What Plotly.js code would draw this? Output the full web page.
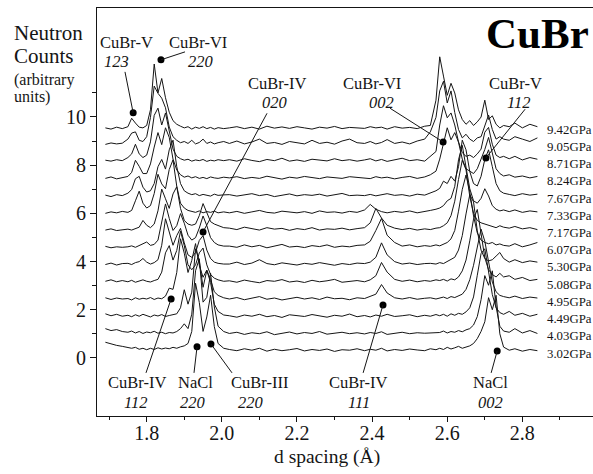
<!DOCTYPE html>
<html><head><meta charset="utf-8">
<script src="https://cdn.plot.ly/plotly-3.0.1.min.js"></script>
<style>html,body{margin:0;padding:0;background:#fff}#chart{width:593px;height:474px}</style>
</head><body><div id="chart"></div>
<script>
// d spacing (Å) sample points shared by all patterns
const dSpacing = [1.690,1.705,1.720,1.735,
1.750,1.760,1.770,1.780,1.790,1.800,1.810,1.820,1.830,1.840,1.850,1.860,1.870,1.880,1.890,1.900,1.910,1.920,1.930,1.940,1.950,1.960,1.970,1.980,1.990,2.005,
2.020,2.040,2.060,2.080,2.100,2.120,2.140,2.160,2.180,2.200,2.220,2.240,2.260,2.280,2.300,2.320,2.340,2.360,
2.380,2.395,2.410,2.425,2.440,2.460,2.480,2.500,2.520,2.540,
2.555,2.570,
2.580,2.590,2.600,2.610,2.620,2.630,2.640,2.650,2.660,2.670,2.680,2.690,2.700,2.710,2.720,2.730,2.740,2.750,
2.765,2.780,2.800,2.820,2.840];

const pressures = ["3.02GPa","4.03GPa","4.49GPa","4.95GPa","5.08GPa","5.30GPa","6.07GPa","7.17GPa","7.33GPa","7.67GPa","8.24GPa","8.71GPa","9.05GPa","9.42GPa"];

// neutron counts (arbitrary units) above each pattern's own baseline
const counts302 = [0.45,0.38,0.32,0.28,
0.25,0.2,0.24,0.16,0.2,0.14,0.2,0.15,0.22,0.17,0.21,0.18,0.24,0.2,0.26,0.3,0.4,0.9,2.9,2.1,0.9,1.5,2.4,1.1,0.4,0.2,
0.15,0.1,0.18,0.12,0.2,0.08,0.16,0.1,0.14,0.19,0.09,0.15,0.11,0.17,0.07,0.14,0.12,0.18,
0.1,0.16,0.12,0.2,0.09,0.15,0.11,0.17,0.13,0.1,
0.18,0.14,
0.2,0.15,0.24,0.17,0.22,0.28,0.2,0.25,0.3,0.4,0.6,0.9,1.3,2.3,1.8,2.4,0.8,0.25,
0.12,0.18,0.08,0.15,0.1];
const counts403 = [0.3,0.22,0.26,0.18,
0.15,0.2,0.12,0.18,0.1,0.16,0.13,0.19,0.11,0.15,0.09,0.14,0.12,0.18,0.3,0.5,0.3,0.9,2.7,3.2,1.4,1.6,2.6,1.2,0.4,0.18,
0.1,0.15,0.06,0.13,0.09,0.17,0.05,0.12,0.16,0.08,0.14,0.1,0.18,0.07,0.12,0.15,0.09,0.13,
0.08,0.14,0.1,0.17,0.06,0.12,0.15,0.09,0.13,0.11,
0.12,0.16,
0.14,0.2,0.12,0.18,0.15,0.22,0.17,0.25,0.3,0.45,0.8,1.5,2.5,2.1,2.7,1.2,0.4,0.2,
0.15,0.3,0.12,0.22,0.1];
const counts449 = [0.2,0.12,0.18,0.1,
0.14,0.08,0.16,0.1,0.18,0.12,0.07,0.15,0.11,0.17,0.09,0.13,0.16,0.2,0.45,1.2,0.6,1.1,2.9,2.4,1.3,2.0,1.5,0.6,0.3,0.15,
0.12,0.06,0.15,0.1,0.18,0.08,0.13,0.05,0.16,0.11,0.09,0.17,0.12,0.06,0.14,0.1,0.19,0.08,
0.13,0.07,0.15,0.1,0.18,0.09,0.12,0.16,0.08,0.14,
0.1,0.17,
0.12,0.18,0.1,0.2,0.14,0.22,0.18,0.28,0.45,0.9,1.8,2.7,2.9,2.0,1.0,0.45,0.25,0.18,
0.3,0.14,0.22,0.1,0.18];
const counts495 = [0.15,0.08,0.14,0.1,
0.12,0.06,0.15,0.09,0.13,0.1,0.16,0.08,0.14,0.11,0.22,0.55,0.5,1.2,2.6,2.0,1.2,1.7,2.4,1.5,1.0,1.3,0.9,0.4,0.25,0.15,
0.1,0.16,0.07,0.13,0.2,0.09,0.14,0.06,0.12,0.17,0.1,0.15,0.08,0.18,0.11,0.13,0.07,0.15,
0.12,0.2,0.3,0.7,0.35,0.15,0.1,0.16,0.09,0.13,
0.15,0.1,
0.14,0.18,0.12,0.2,0.16,0.22,0.3,0.5,0.9,1.5,2.3,3.0,2.5,1.6,0.8,0.4,0.25,0.2,
0.15,0.22,0.12,0.18,0.14];
const counts508 = [0.12,0.18,0.1,0.15,
0.1,0.16,0.08,0.13,0.18,0.12,0.09,0.15,0.2,0.5,1.3,1.6,1.0,1.4,2.2,1.6,0.8,0.6,0.8,1.3,1.5,0.8,0.4,0.25,0.18,0.12,
0.14,0.08,0.17,0.11,0.06,0.15,0.12,0.19,0.09,0.13,0.07,0.16,0.1,0.14,0.2,0.08,0.12,0.15,
0.1,0.18,0.35,0.9,0.5,0.2,0.12,0.17,0.1,0.15,
0.12,0.18,
0.15,0.2,0.13,0.22,0.18,0.3,0.55,1.0,1.8,2.7,3.1,2.0,1.1,0.6,0.4,0.3,0.45,0.3,
0.35,0.2,0.28,0.15,0.2];
const counts530 = [0.1,0.16,0.08,0.14,
0.15,0.1,0.18,0.22,0.35,0.2,0.12,0.18,0.3,0.9,2.0,1.5,0.9,1.3,1.6,1.0,0.5,0.4,0.6,1.1,1.3,0.7,0.35,0.2,0.15,0.12,
0.12,0.2,0.1,0.16,0.3,0.14,0.09,0.17,0.12,0.08,0.15,0.11,0.18,0.13,0.07,0.14,0.1,0.16,
0.14,0.2,0.4,1.0,0.5,0.22,0.12,0.16,0.1,0.14,
0.15,0.12,
0.18,0.14,0.22,0.3,0.4,0.7,1.3,2.2,3.0,2.7,1.5,0.7,0.35,0.25,0.3,0.45,0.6,0.35,
0.2,0.3,0.18,0.25,0.2];
const counts607 = [0.14,0.08,0.12,0.1,
0.12,0.16,0.1,0.18,0.25,0.32,0.18,0.22,0.4,1.1,1.9,1.3,0.8,1.0,1.5,1.1,0.6,0.4,0.5,0.9,1.4,1.0,0.5,0.3,0.2,0.15,
0.15,0.1,0.2,0.12,0.18,0.08,0.16,0.22,0.11,0.14,0.09,0.17,0.13,0.2,0.1,0.15,0.12,0.18,
0.2,0.35,0.8,1.3,0.6,0.3,0.15,0.2,0.12,0.17,
0.14,0.2,
0.16,0.22,0.3,0.45,0.8,1.6,2.5,3.1,2.4,1.4,0.7,0.4,0.3,0.25,0.3,0.2,0.24,0.18,
0.15,0.25,0.12,0.2,0.3];
const counts717 = [0.1,0.15,0.08,0.12,
0.14,0.1,0.16,0.22,0.5,0.3,0.2,0.35,0.9,1.8,1.4,1.0,1.6,1.9,1.0,0.5,0.35,0.3,0.35,0.7,1.2,0.8,0.45,0.35,0.28,0.2,
0.18,0.12,0.22,0.15,0.1,0.2,0.14,0.17,0.09,0.16,0.12,0.2,0.1,0.15,0.13,0.18,0.11,0.16,
0.2,0.4,1.0,0.6,0.3,0.18,0.12,0.17,0.1,0.15,
0.12,0.18,
0.2,0.28,0.4,0.7,1.3,2.2,3.0,2.6,1.5,0.8,0.5,0.4,0.35,0.3,0.25,0.2,0.28,0.22,
0.18,0.25,0.15,0.2,0.12];
const counts733 = [0.08,0.14,0.1,0.16,
0.12,0.2,0.6,1.0,0.5,0.3,0.4,0.9,1.7,1.3,1.1,1.9,2.3,1.2,0.5,0.3,0.2,0.16,0.12,0.18,0.1,0.15,0.12,0.17,0.1,0.14,
0.1,0.16,0.08,0.14,0.2,0.12,0.09,0.17,0.13,0.1,0.15,0.08,0.18,0.12,0.14,0.09,0.16,0.12,
0.22,0.45,0.25,0.15,0.1,0.16,0.12,0.18,0.1,0.14,
0.2,0.25,
0.3,0.4,0.6,0.7,1.2,2.3,2.9,2.0,1.1,0.6,0.5,0.7,1.1,0.8,0.4,0.25,0.18,0.22,
0.15,0.22,0.12,0.18,0.14];
const counts767 = [0.12,0.06,0.14,0.1,
0.2,0.35,0.8,0.9,0.45,0.25,0.3,0.6,1.3,1.6,1.2,2.0,2.4,1.3,0.6,0.3,0.2,0.14,0.18,0.1,0.15,0.12,0.08,0.16,0.11,0.13,
0.14,0.08,0.12,0.18,0.1,0.15,0.06,0.13,0.17,0.09,0.14,0.11,0.16,0.08,0.13,0.19,0.1,0.12,
0.1,0.15,0.09,0.13,0.18,0.11,0.14,0.08,0.16,0.12,
0.2,0.3,
0.4,0.7,0.6,0.9,0.7,1.3,2.4,2.0,1.1,0.6,0.5,0.9,1.6,2.0,1.3,0.6,0.3,0.2,
0.15,0.1,0.18,0.12,0.16];
const counts824 = [0.1,0.16,0.08,0.12,
0.18,0.35,0.85,0.6,0.3,0.3,0.7,1.4,2.0,1.5,2.2,1.8,0.9,0.45,0.25,0.15,0.2,0.12,0.17,0.1,0.14,0.09,0.16,0.12,0.1,0.15,
0.12,0.17,0.09,0.14,0.1,0.19,0.13,0.07,0.15,0.11,0.18,0.12,0.09,0.16,0.13,0.1,0.17,0.14,
0.13,0.09,0.17,0.12,0.15,0.08,0.14,0.18,0.1,0.16,
0.25,0.4,
0.9,1.6,2.2,1.7,2.0,1.6,0.9,0.5,0.4,0.3,0.5,0.9,1.3,1.8,1.2,0.5,0.3,0.2,
0.25,0.15,0.2,0.12,0.18];
const counts871 = [0.14,0.1,0.16,0.12,
0.25,0.4,0.8,0.4,0.25,0.35,0.9,2.0,2.3,1.6,2.1,1.4,0.6,0.3,0.2,0.14,0.18,0.1,0.15,0.12,0.17,0.09,0.14,0.11,0.16,0.12,
0.16,0.1,0.2,0.13,0.08,0.17,0.12,0.22,0.1,0.15,0.09,0.18,0.14,0.11,0.2,0.12,0.16,0.1,
0.15,0.2,0.11,0.17,0.09,0.14,0.22,0.12,0.16,0.1,
0.3,0.5,
1.6,2.4,1.9,2.1,1.6,0.9,0.45,0.3,0.35,0.25,0.4,0.6,1.3,1.5,0.8,0.35,0.25,0.3,
0.2,0.3,0.15,0.25,0.18];
const counts905 = [0.08,0.14,0.1,0.13,
0.3,0.55,0.6,0.25,0.2,0.4,1.2,2.5,2.2,2.0,1.6,0.8,0.4,0.25,0.15,0.2,0.12,0.25,0.1,0.16,0.3,0.12,0.18,0.1,0.15,0.2,
0.12,0.22,0.1,0.18,0.3,0.12,0.16,0.08,0.2,0.14,0.1,0.25,0.12,0.17,0.09,0.22,0.3,0.15,
0.12,0.2,0.1,0.16,0.28,0.12,0.18,0.1,0.22,0.3,
0.6,1.2,
2.3,2.7,1.8,2.3,1.4,0.7,0.35,0.5,0.3,0.2,0.35,0.4,0.9,1.3,0.7,0.3,0.4,0.3,
0.25,0.4,0.3,0.2,0.35];
const counts942 = [0.05,0.0,0.08,0.02,
0.1,0.45,0.25,0.08,0.05,0.15,0.8,2.7,1.5,2.1,1.3,0.7,0.35,0.2,0.12,0.05,0.1,0.0,0.08,0.03,0.1,0.02,0.07,0.0,0.06,0.02,
0.05,0.1,0.02,0.08,0.0,0.12,0.04,0.09,0.03,0.1,0.05,0.0,0.08,0.04,0.11,0.02,0.07,0.05,
0.03,0.1,0.05,0.08,0.0,0.1,0.04,0.07,0.02,0.12,
0.15,1.2,
3.0,2.2,1.4,1.9,1.5,0.8,0.4,0.2,0.35,0.15,0.3,0.5,1.2,0.4,0.55,0.2,0.05,0.15,
0.1,0.25,0.05,0.2,0.1];

const spectra = [counts302,counts403,counts449,counts495,counts508,counts530,counts607,counts717,counts733,counts767,counts824,counts871,counts905,counts942];

// marked reflections
const reflPhase = ["CuBr-V","CuBr-VI","CuBr-IV","CuBr-VI","CuBr-V","CuBr-IV","NaCl","CuBr-III","CuBr-IV","NaCl"];
const reflHkl   = ["123","220","020","002","112","112","220","220","111","002"];
const reflD     = [1.764,1.838,1.950,2.589,2.703,1.865,1.934,1.971,2.429,2.733];
const reflCount = [10.17,12.37,5.23,8.96,8.30,2.45,0.46,0.58,2.20,0.29];

const xTicks = [1.8,2.0,2.2,2.4,2.6,2.8];
const xTickText = ["1.8","2.0","2.2","2.4","2.6","2.8"];
const yTicks = [0,2,4,6,8,10];
const yTickText = ["0","2","4","6","8","10"];

// ---- layout constants (positions / styles) ----
const base0 = 0.2, step = 0.715;
const serif = "Liberation Serif, Times New Roman, serif";
const ink = "#151515";

const traces = spectra.map((c, i) => ({
  x: dSpacing, y: c.map(v => v + base0 + i * step),
  type: "scatter", mode: "lines",
  line: {color: ink, width: 1}, hoverinfo: "skip"
}));
traces.push({x: reflD, y: reflCount, type: "scatter", mode: "markers",
  marker: {color: "#000", size: 7}, hoverinfo: "skip"});

// label placement: [nameX, nameY, hklX, hklY, leaderEndX, leaderEndY]
const labelPos = [
  [1.7475, 13.07, 1.7183, 12.28, 1.7422, 11.87],
  [1.9366, 13.07, 1.9446, 12.28, 1.902, 12.70],
  [2.1456, 11.38, 2.1403, 10.58, 2.1203, 10.15],
  [2.400, 11.38, 2.425, 10.58, 2.4478, 10.36],
  [2.7806, 11.38, 2.791, 10.58, 2.8072, 10.32],
  [1.774, -1.04, 1.7715, -1.83, 1.7981, -0.62],
  [1.9286, -1.04, 1.9233, -1.83, 1.9259, -0.62],
  [2.099, -1.04, 2.0777, -1.83, 2.0271, -0.62],
  [2.3625, -1.04, 2.3651, -1.83, 2.3761, -0.62],
  [2.7142, -1.04, 2.7142, -1.83, 2.7169, -0.62]
];

const annotations = [];
const shapes = [];
reflPhase.forEach((p, k) => {
  const L = labelPos[k];
  annotations.push({x: L[0], y: L[1], xref: "x", yref: "y", text: p, showarrow: false,
    font: {family: serif, size: 16.5, color: ink}, xanchor: "center", yanchor: "middle"});
  annotations.push({x: L[2], y: L[3], xref: "x", yref: "y", text: "<i>" + reflHkl[k] + "</i>", showarrow: false,
    font: {family: serif, size: 16.5, color: ink}, xanchor: "center", yanchor: "middle"});
  shapes.push({type: "line", xref: "x", yref: "y", x0: reflD[k], y0: reflCount[k], x1: L[4], y1: L[5],
    line: {color: ink, width: 1}});
});

pressures.forEach((p, i) => {
  annotations.push({x: 2.861, y: base0 + i * step - 0.02, xref: "x", yref: "y", text: p, showarrow: false,
    font: {family: serif, size: 12.8, color: ink}, xanchor: "left", yanchor: "middle"});
});

// axis titles and chart title
const side = [["Neutron", 33, 21], ["Counts", 56, 21], ["(arbitrary", 80, 16], ["units)", 97, 16]];
side.forEach(s => annotations.push({x: (12 - 97) / 496, y: (416 - s[1]) / 408, xref: "paper", yref: "paper",
  text: s[0], showarrow: false, xanchor: "left", yanchor: "middle", font: {family: serif, size: s[2], color: ink}}));
annotations.push({x: 2.28, y: (416 - 457) / 408, xref: "x", yref: "paper", text: "d spacing (Å)", showarrow: false,
  xanchor: "center", yanchor: "middle", font: {family: serif, size: 19.5, color: ink}});
annotations.push({x: (537 - 97) / 496, y: (416 - 33) / 408, xref: "paper", yref: "paper", text: "<b>CuBr</b>",
  showarrow: false, xanchor: "center", yanchor: "middle", font: {family: serif, size: 43, color: "#000"}});

const layout = {
  width: 593, height: 474,
  margin: {l: 97, r: 0, t: 8, b: 58, pad: 0},
  paper_bgcolor: "#fff", plot_bgcolor: "#fff",
  showlegend: false,
  xaxis: {range: [1.6677, 2.988], showgrid: false, zeroline: false,
    tickmode: "array", tickvals: xTicks, ticktext: xTickText,
    ticks: "outside", ticklen: 5, tickwidth: 1, tickcolor: ink, ticklabelstandoff: -6,
    minor: {tickmode: "array", tickvals: [1.7,1.9,2.1,2.3,2.5,2.7,2.9], ticks: "outside", ticklen: 3, tickcolor: ink, showgrid: false},
    showline: true, linecolor: ink, linewidth: 1, mirror: true,
    tickfont: {family: serif, size: 20, color: ink}},
  yaxis: {range: [-2.41, 14.52], showgrid: false, zeroline: false,
    tickmode: "array", tickvals: yTicks, ticktext: yTickText,
    ticks: "outside", ticklen: 6, tickwidth: 1, tickcolor: ink,
    minor: {tickmode: "array", tickvals: [1,3,5,7,9,11], ticks: "outside", ticklen: 4, tickcolor: ink, showgrid: false},
    showline: true, linecolor: ink, linewidth: 1,
    tickfont: {family: serif, size: 20, color: ink}},
  annotations: annotations,
  shapes: shapes
};

Plotly.newPlot("chart", traces, layout, {staticPlot: true, displayModeBar: false});
</script>
</body></html>
